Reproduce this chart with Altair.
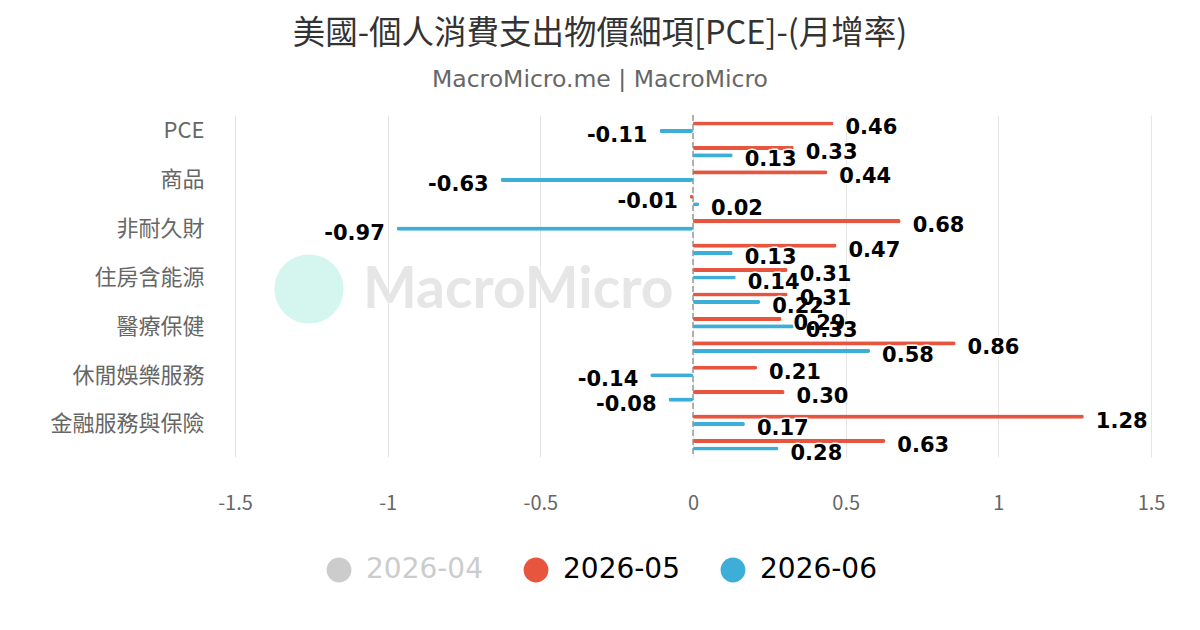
import altair as alt
import pandas as pd

categories = ["PCE", "核心PCE", "商品", "耐久財", "非耐久財", "服務", "住房含能源",
              "住房", "醫療保健", "交通運輸服務", "休閒娛樂服務", "餐飲住宿服務",
              "金融服務與保險", "其他服務"]
shown_labels = ["PCE", "商品", "非耐久財", "住房含能源", "醫療保健", "休閒娛樂服務", "金融服務與保險"]
series_names = ["2026-04", "2026-05", "2026-06"]
series_colors = ["#cccccc", "#e8553f", "#3caed8"]
may_values = [0.46, 0.33, 0.44, -0.01, 0.68, 0.47, 0.31, 0.31, 0.29, 0.86, 0.21, 0.30, 1.28, 0.63]
jun_values = [-0.11, 0.13, -0.63, 0.02, -0.97, 0.13, 0.14, 0.22, 0.33, 0.58, -0.14, -0.08, 0.17, 0.28]
x_ticks = [-1.5, -1, -0.5, 0, 0.5, 1, 1.5]

rows = []
for c, v in zip(categories, may_values):
    rows.append({"cat": c, "series": "2026-05", "v": v, "lab": f"{v:.2f}"})
for c, v in zip(categories, jun_values):
    rows.append({"cat": c, "series": "2026-06", "v": v, "lab": f"{v:.2f}"})
df = pd.DataFrame(rows)

lab_list = ",".join("'" + s + "'" for s in shown_labels)

y_enc = alt.Y("cat:N", sort=categories,
              scale=alt.Scale(paddingInner=0, paddingOuter=0),
              axis=alt.Axis(title=None, labelFont="Noto Sans CJK TC", labelFontSize=22,
                            labelColor="#666666", ticks=False, domain=False, grid=False,
                            labelPadding=31, labelOffset=4,
                            labelExpr=f"indexof([{lab_list}], datum.value) >= 0 ? datum.value : ''"))
yoff_enc = alt.YOffset("series:N", scale=alt.Scale(domain=["2026-05", "2026-06"],
                                                   paddingInner=0.45, paddingOuter=0.85))
x_enc = alt.X("v:Q", scale=alt.Scale(domain=[-1.5, 1.5], nice=False, zero=False),
              axis=alt.Axis(title=None, values=x_ticks, grid=True, gridColor="#e6e6e6",
                            domain=False, ticks=False, labelPadding=36, labelFontSize=20,
                            labelColor="#666666", labelFont="Noto Sans CJK TC",
                            labelFlush=False, labelExpr="toString(datum.value)"))

base = alt.Chart(df)

wm_circle = alt.Chart(pd.DataFrame({"t": ["logo"]})).mark_circle(
    color="#d4f6ef", opacity=1, size=4780).encode(x=alt.value(74), y=alt.value(174))
wm_text = alt.Chart(pd.DataFrame({"t": ["MacroMicro"]})).mark_text(
    align="left", baseline="middle", font="Lato", fontSize=57, fontWeight="bold",
    color="#e6e6e6").encode(text="t:N", x=alt.value(128), y=alt.value(176))

zero_rule = alt.Chart(pd.DataFrame({"z": [0]})).mark_rule(
    color="#999999", strokeDash=[6, 3], strokeWidth=1.5).encode(x=alt.X("z:Q"))

bars = base.mark_bar(cornerRadius=2).encode(
    x=x_enc, y=y_enc, yOffset=yoff_enc,
    color=alt.Color("series:N",
                    scale=alt.Scale(domain=series_names, range=series_colors),
                    legend=alt.Legend(title=None, orient="none", legendX=90, legendY=441,
                                      direction="horizontal", symbolType="circle",
                                      symbolSize=615, symbolStrokeWidth=0, symbolOpacity=1,
                                      labelFont="DejaVu Sans", labelFontSize=28,
                                      labelColor=alt.ExprRef("datum.label == '2026-04' ? '#cccccc' : '#000000'"),
                                      labelOffset=13, columnPadding=39, padding=0,
                                      labelLimit=300)))

pos = base.transform_filter("datum.v >= 0")
neg = base.transform_filter("datum.v < 0")

def labels(src, align, dx):
    halo = src.mark_text(align=align, baseline="middle", dx=dx, dy=5, font="DejaVu Sans",
                         fontSize=21, fontWeight="bold", color="white", stroke="white",
                         strokeWidth=3, strokeJoin="round").encode(
        x="v:Q", y=alt.Y("cat:N", sort=categories), yOffset="series:N", text="lab:N")
    txt = src.mark_text(align=align, baseline="middle", dx=dx, dy=5, font="DejaVu Sans",
                        fontSize=21, fontWeight="bold", color="#000000").encode(
        x="v:Q", y=alt.Y("cat:N", sort=categories), yOffset="series:N", text="lab:N")
    return [halo, txt]

layers = [wm_circle, wm_text, zero_rule, bars] + labels(pos, "left", 12) + labels(neg, "right", -12)

chart = alt.layer(*layers).properties(
    width=916, height=342,
    autosize=alt.AutoSizeParams(type="none"),
    padding={"left": 227, "top": 107, "right": 41, "bottom": 165},
    background="white",
    title=alt.Title("美國-個人消費支出物價細項[PCE]-(月增率)",
                    subtitle="MacroMicro.me | MacroMicro",
                    font="Noto Sans CJK TC", fontSize=32.5, fontWeight="normal", color="#333333",
                    subtitleFont="DejaVu Sans", subtitleFontSize=23.5, subtitleColor="#666666",
                    anchor="middle", frame="group", dx=-93, offset=23, subtitlePadding=17),
).configure_view(stroke=None)

chart.save("out.html", embed_options={"renderer": "svg", "actions": False})
